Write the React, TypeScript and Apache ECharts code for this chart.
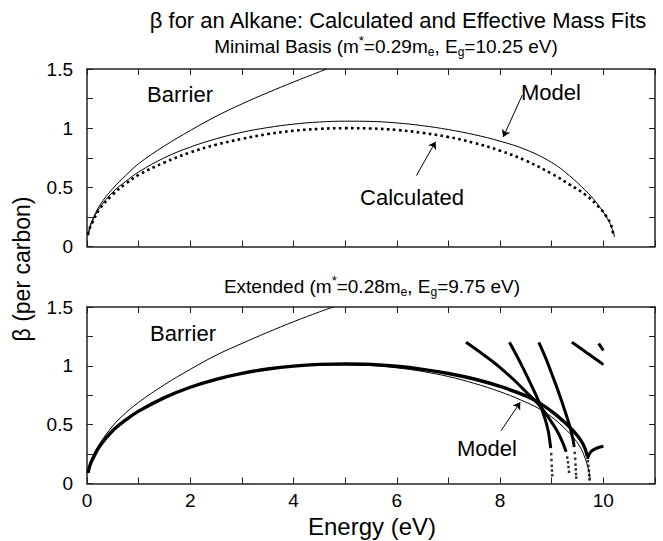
import React, { useEffect, useRef } from "react";
import * as echarts from "echarts";

type Pt = [number, number];

// Energy axis (eV) and β axis (per carbon)
const energyTickLabels = [0, 2, 4, 6, 8, 10];
const betaTickLabels = [0, 0.5, 1, 1.5];

// Minimal basis panel
const barrierMinimal: Pt[] = [
  [0.02, 0.1], [0.05, 0.155], [0.1, 0.22], [0.25, 0.35], [0.5, 0.49], [0.75, 0.6],
  [1, 0.7], [1.5, 0.85], [2, 0.98], [2.5, 1.1], [3, 1.205], [3.5, 1.3], [4, 1.39],
  [4.5, 1.476], [4.64, 1.5],
];
const modelMinimal: Pt[] = [
  [0.02, 0.09], [0.05, 0.15], [0.1, 0.21], [0.25, 0.33], [0.5, 0.46], [0.75, 0.55],
  [1, 0.63], [1.5, 0.75], [2, 0.84], [2.5, 0.91], [3, 0.965], [3.5, 1.005],
  [4, 1.034], [4.5, 1.052], [5, 1.059], [5.5, 1.057], [6, 1.044], [6.5, 1.021],
  [7, 0.988], [7.5, 0.945], [8, 0.89], [8.5, 0.818], [9, 0.71], [9.34, 0.6],
  [9.66, 0.47], [9.85, 0.38], [9.99, 0.295], [10.1, 0.22], [10.17, 0.15],
  [10.22, 0.08],
];
const calcMinimal: Pt[] = [
  [0.02, 0.1], [0.05, 0.15], [0.1, 0.2], [0.25, 0.32], [0.5, 0.44], [0.75, 0.53],
  [1, 0.605], [1.5, 0.71], [2, 0.795], [2.5, 0.86], [3, 0.91], [3.5, 0.95],
  [4, 0.978], [4.5, 0.994], [5, 1.0], [5.5, 0.997], [6, 0.985], [6.5, 0.96],
  [7, 0.925], [7.5, 0.875], [8, 0.81], [8.5, 0.725], [9, 0.615], [9.34, 0.525],
  [9.66, 0.435], [9.91, 0.335], [10.04, 0.265], [10.15, 0.18], [10.2, 0.08],
];

// Extended basis panel
const barrierExtended: Pt[] = [
  [0.02, 0.1], [0.05, 0.155], [0.1, 0.22], [0.25, 0.34], [0.5, 0.49], [0.75, 0.6],
  [1, 0.69], [1.5, 0.84], [2, 0.97], [2.5, 1.09], [3, 1.19], [3.5, 1.285],
  [4, 1.375], [4.5, 1.458], [4.77, 1.5],
];
const modelExtended: Pt[] = [
  [0.02, 0.09], [0.05, 0.145], [0.1, 0.2], [0.25, 0.32], [0.5, 0.45], [0.75, 0.54],
  [1, 0.613], [1.5, 0.729], [2, 0.816], [2.5, 0.882], [3, 0.932], [3.5, 0.969],
  [4, 0.994], [4.5, 1.007], [5, 1.01], [5.5, 1.002], [6, 0.983], [6.5, 0.952],
  [7, 0.909], [7.5, 0.851], [8, 0.78], [8.4, 0.71], [8.76, 0.635], [9, 0.565],
  [9.2, 0.49], [9.4, 0.4], [9.55, 0.31], [9.65, 0.21], [9.71, 0.12], [9.75, 0.03],
];
const calcExtended: Pt[] = [
  [0.02, 0.09], [0.05, 0.145], [0.1, 0.2], [0.25, 0.32], [0.5, 0.45], [0.75, 0.54],
  [1, 0.615], [1.5, 0.73], [2, 0.818], [2.5, 0.885], [3, 0.936], [3.5, 0.973],
  [4, 0.998], [4.5, 1.012], [5, 1.016], [5.5, 1.012], [6, 0.996], [6.5, 0.97],
  [7, 0.935], [7.5, 0.888], [8, 0.825], [8.5, 0.745], [8.76, 0.685], [9.08, 0.585],
  [9.4, 0.455], [9.6, 0.34], [9.69, 0.23],
];
const calcExtendedTail: Pt[] = [
  [9.7, 0.19], [9.71, 0.15], [9.72, 0.11], [9.725, 0.07], [9.73, 0.035],
];
const branchA: Pt[] = [
  [7.34, 1.2], [7.6, 1.12], [7.8, 1.055], [8.0, 0.985], [8.25, 0.888], [8.5, 0.78],
  [8.76, 0.665], [9.0, 0.52], [9.1, 0.45], [9.2, 0.36], [9.28, 0.27],
];
const branchATail: Pt[] = [[9.3, 0.22], [9.315, 0.18], [9.325, 0.14], [9.335, 0.1]];
const branchB: Pt[] = [
  [8.18, 1.2], [8.3, 1.105], [8.44, 0.985], [8.6, 0.84], [8.76, 0.685], [8.87, 0.55],
  [8.93, 0.45], [8.96, 0.37], [8.98, 0.3],
];
const branchBTail: Pt[] = [[8.99, 0.25], [8.995, 0.2], [9.0, 0.15], [9.005, 0.11], [9.01, 0.07]];
const branchC: Pt[] = [
  [8.75, 1.2], [8.87, 1.08], [9.02, 0.91], [9.15, 0.755], [9.28, 0.585], [9.36, 0.47],
  [9.41, 0.38], [9.435, 0.31],
];
const branchCTail: Pt[] = [
  [9.445, 0.26], [9.455, 0.21], [9.46, 0.16], [9.465, 0.12], [9.47, 0.08], [9.475, 0.05],
];
const branchD: Pt[] = [[9.39, 1.2], [9.55, 1.152], [9.7, 1.105], [9.85, 1.058], [10.0, 1.01]];
const branchE: Pt[] = [[9.91, 1.19], [9.955, 1.16], [10.0, 1.13]];
const branchF: Pt[] = [
  [9.69, 0.21], [9.72, 0.245], [9.77, 0.275], [9.85, 0.296], [9.92, 0.308], [10.0, 0.317],
];

const FONT = "'Liberation Sans', Arial, Helvetica, sans-serif";
const INK = "#000";
const FRAME = "#222";

function xAxis(gridIndex: number, position: "top" | "bottom", labels: boolean) {
  return {
    type: "value",
    gridIndex,
    position,
    min: 0,
    max: 11,
    interval: 1,
    axisLine: { show: true, onZero: false, lineStyle: { color: FRAME, width: 1.5 } },
    axisTick: { show: true, inside: true, length: 6, lineStyle: { color: FRAME, width: 1 } },
    axisLabel: {
      show: labels,
      margin: 7,
      fontSize: 19,
      color: INK,
      fontFamily: FONT,
      formatter: (v: number) => (energyTickLabels.includes(v) ? String(v) : ""),
    },
    splitLine: { show: false },
  };
}

function yAxis(gridIndex: number, position: "left" | "right", labels: boolean) {
  return {
    type: "value",
    gridIndex,
    position,
    min: 0,
    max: 1.5,
    interval: 0.25,
    axisLine: { show: true, onZero: false, lineStyle: { color: FRAME, width: 1.5 } },
    axisTick: { show: true, inside: true, length: 6, lineStyle: { color: FRAME, width: 1 } },
    axisLabel: {
      show: labels,
      margin: 14,
      fontSize: 19,
      color: INK,
      fontFamily: FONT,
      formatter: (v: number) =>
        betaTickLabels.some((t) => Math.abs(t - v) < 1e-9) ? String(v) : "",
    },
    splitLine: { show: false },
  };
}

function curve(data: Pt[], panel: number, width: number, extra: any = {}) {
  return {
    type: "line",
    data,
    xAxisIndex: panel * 2,
    yAxisIndex: panel * 2,
    symbol: "none",
    smooth: 0.4,
    silent: true,
    lineStyle: { color: INK, width },
    z: 3,
    ...extra,
  };
}

function dots(data: Pt[], panel: number) {
  return {
    type: "scatter",
    data,
    xAxisIndex: panel * 2,
    yAxisIndex: panel * 2,
    symbol: "rect",
    symbolSize: 2.5,
    silent: true,
    itemStyle: { color: INK },
    z: 3,
  };
}

function arrows(lines: [Pt, Pt][]) {
  return {
    silent: true,
    symbol: ["none", "arrow"],
    symbolSize: 7,
    label: { show: false },
    lineStyle: { color: INK, width: 1, type: "solid" },
    data: lines.map(([a, b]) => [{ coord: a }, { coord: b }]),
  };
}

function label(text: string, x: number, y: number, size: number, extra: any = {}) {
  return {
    type: "text",
    x,
    y,
    silent: true,
    style: {
      text,
      fill: INK,
      fontSize: size,
      fontFamily: FONT,
      align: "center",
      verticalAlign: "middle",
      textAlign: "center",
      textVerticalAlign: "middle",
      ...extra,
    },
  };
}

const richScript = {
  sub: { fontSize: 12, lineHeight: 12, verticalAlign: "bottom", fontFamily: FONT, fill: INK },
  sup: { fontSize: 13, lineHeight: 12, verticalAlign: "top", fontFamily: FONT, fill: INK },
};

const option = {
  animation: false,
  backgroundColor: "#fff",
  grid: [
    { left: 87, top: 69, width: 568, height: 177.5 },
    { left: 87, top: 307, width: 568, height: 176.5 },
  ],
  xAxis: [xAxis(0, "bottom", false), xAxis(0, "top", false), xAxis(1, "bottom", true), xAxis(1, "top", false)],
  yAxis: [yAxis(0, "left", true), yAxis(0, "right", false), yAxis(1, "left", true), yAxis(1, "right", false)],
  series: [
    curve(barrierMinimal, 0, 1),
    curve(modelMinimal, 0, 1, {
      markLine: arrows([
        [[8.43, 1.28], [8.06, 0.925]],
        [[6.38, 0.6], [6.75, 0.885]],
      ]),
    }),
    curve(calcMinimal, 0, 2.6, { lineStyle: { color: INK, width: 2.6, type: [2.6, 3.4], cap: "butt" } }),

    curve(barrierExtended, 1, 1),
    curve(modelExtended, 1, 1, {
      markLine: arrows([[[8.02, 0.45], [8.39, 0.69]]]),
    }),
    curve(calcExtended, 1, 3.4),
    dots(calcExtendedTail, 1),
    curve(branchA, 1, 3),
    dots(branchATail, 1),
    curve(branchB, 1, 3),
    dots(branchBTail, 1),
    curve(branchC, 1, 3),
    dots(branchCTail, 1),
    curve(branchD, 1, 3),
    curve(branchE, 1, 3),
    curve(branchF, 1, 3),
  ],
  graphic: [
    label("β for an Alkane: Calculated and Effective Mass Fits", 398, 20, 22),
    label("Minimal Basis (m{sup|*}=0.29m{sub|e}, E{sub|g}=10.25 eV)", 386, 46, 19, {
      lineHeight: 24,
      rich: richScript,
    }),
    label("Extended (m{sup|*}=0.28m{sub|e}, E{sub|g}=9.75 eV)", 372, 286, 19, {
      lineHeight: 24,
      rich: richScript,
    }),
    label("Barrier", 180, 94, 22),
    label("Model", 551, 92, 22),
    label("Calculated", 412, 197, 22),
    label("Barrier", 183, 333, 22),
    label("Model", 487, 448, 22),
    label("Energy (eV)", 372, 526, 24),
    { ...label("β (per carbon)", 22, 269, 23), rotation: Math.PI / 2 },
  ],
};

export default function App() {
  const ref = useRef<HTMLDivElement>(null);
  useEffect(() => {
    document.body.style.margin = "0";
    const chart = echarts.init(ref.current!, null, { renderer: "svg" });
    chart.setOption(option as any);
    return () => chart.dispose();
  }, []);
  return <div ref={ref} style={{ width: 663, height: 541, background: "#fff" }} />;
}
